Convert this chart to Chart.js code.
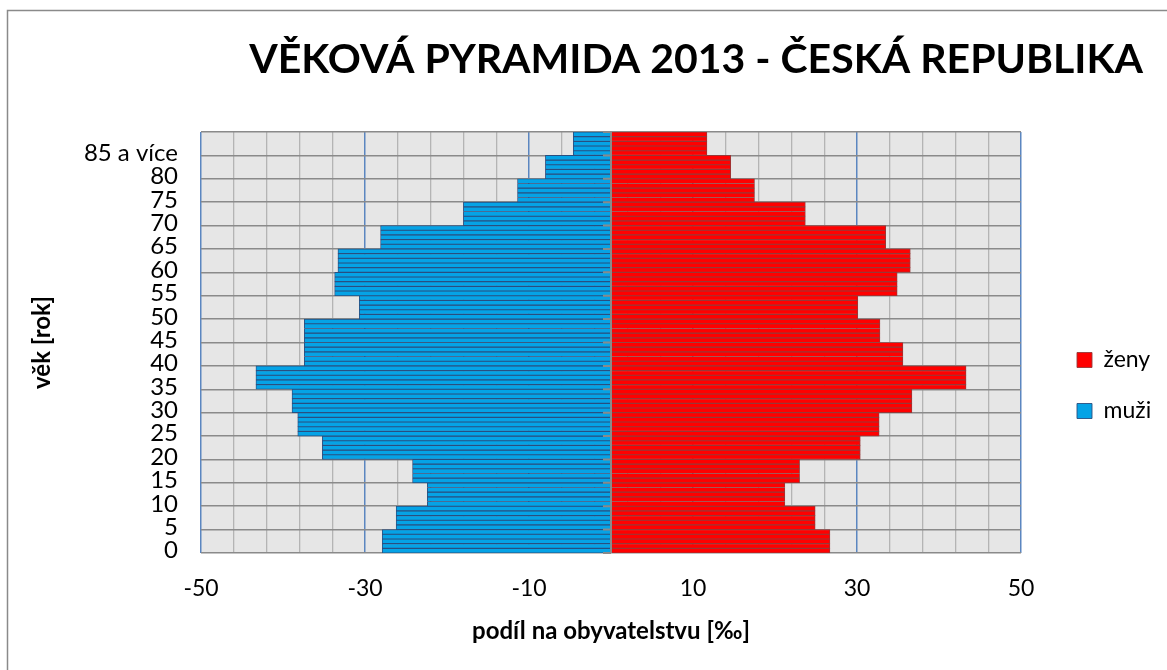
<!DOCTYPE html>
<html>
<head>
<meta charset="utf-8">
<script src="https://cdn.jsdelivr.net/npm/chart.js@4.4.1/dist/chart.umd.min.js"></script>
<style>
    html, body { margin: 0; padding: 0; background: #fff; }
    #wrap { position: relative; width: 1167px; height: 670px; }
</style>
</head>
<body>
<div id="wrap"><canvas id="pyramid"></canvas></div>
<script>
// ── Data (‰ of total population, 5-year groups, youngest first) ─────
const groupLabels = ['0', '5', '10', '15', '20', '25', '30', '35', '40', '45',
                     '50', '55', '60', '65', '70', '75', '80', '85 a více'];
const muzi = [-27.9, -26.2, -22.4, -24.2, -35.2, -38.2, -38.9, -43.3, -37.4,
              -37.4, -30.7, -33.7, -33.3, -28.1, -18.0, -11.4, -8.0, -4.6];
const zeny = [26.7, 24.9, 21.2, 23.0, 30.4, 32.7, 36.7, 43.3, 35.6,
              32.8, 30.1, 34.9, 36.5, 33.5, 23.7, 17.5, 14.6, 11.7];
const xTickLabels = [-50, -30, -10, 10, 30, 50];

// one bar per year of age, every year of a group carries the group value
const YEARS_PER_GROUP = 5;
const ageLabels = [];
const muziByAge = [];
const zenyByAge = [];
groupLabels.forEach((g, gi) => {
    for (let k = 0; k < YEARS_PER_GROUP; k++) {
        ageLabels.push(k === 0 ? g : '');
        muziByAge.push(muzi[gi]);
        zenyByAge.push(zeny[gi]);
    }
});

// ── Styling ──────────────────────────────────────────────────────────
const FONT = 'Lato';
const GRID_BLUE = '#5b86c0';
const GRID_GRAY = '#b4b4b4';
const GRID_DARK = '#8a8a8a';
const PLOT_BG = '#e6e6e6';

Chart.defaults.color = '#000';
Chart.defaults.font.family = FONT;

// background, outer frame and the category axis drawn at zero
const frame = {
    id: 'frame',
    afterLayout(chart) {
        // let the legend text run past the title's right edge without clipping
        const lg = chart.legend;
        lg.right = chart.width;
        lg.width = lg.right - lg.left;
    },
    beforeDraw(chart) {
        const { ctx, chartArea: a } = chart;
        ctx.save();
        ctx.fillStyle = '#fff';
        ctx.fillRect(0, 0, chart.width, chart.height);
        ctx.fillStyle = PLOT_BG;
        ctx.fillRect(a.left, a.top, a.right - a.left, a.bottom - a.top);
        ctx.strokeStyle = GRID_DARK;
        ctx.lineWidth = 1.5;
        ctx.beginPath();
        ctx.moveTo(7.5, chart.height);
        ctx.lineTo(7.5, 10.5);
        ctx.lineTo(chart.width, 10.5);
        ctx.stroke();
        ctx.restore();
    },
    afterDatasetsDraw(chart) {
        const { ctx, chartArea: a, scales: { x, y } } = chart;
        const x0 = x.getPixelForValue(0);
        ctx.save();
        ctx.strokeStyle = GRID_DARK;
        ctx.lineWidth = 2;
        ctx.beginPath();
        ctx.moveTo(x0, a.top);
        ctx.lineTo(x0, a.bottom);
        for (let i = 0; i <= ageLabels.length; i += YEARS_PER_GROUP) {
            const yy = y.getPixelForValue(i - 0.5);
            ctx.moveTo(x0 - 8, yy);
            ctx.lineTo(x0, yy);
        }
        ctx.stroke();
        ctx.restore();
    }
};

// ── Chart ────────────────────────────────────────────────────────────
new Chart(document.getElementById('pyramid'), {
    type: 'bar',
    data: {
        labels: ageLabels,
        datasets: [
            {
                label: 'ženy',
                data: zenyByAge,
                backgroundColor: '#ff0000',
                borderColor: '#973838',
                borderWidth: 0.9,
                categoryPercentage: 1,
                barPercentage: 1
            },
            {
                label: 'muži',
                data: muziByAge,
                backgroundColor: '#05a3e6',
                borderColor: '#2a4f80',
                borderWidth: 0.9,
                categoryPercentage: 1,
                barPercentage: 1
            }
        ]
    },
    options: {
        indexAxis: 'y',
        responsive: true,
        maintainAspectRatio: false,
        animation: false,
        layout: { padding: { left: 0, right: 24, top: 0, bottom: 0 } },
        plugins: {
            title: {
                display: true,
                text: 'VĚKOVÁ PYRAMIDA 2013 - ČESKÁ REPUBLIKA',
                align: 'end',
                color: '#000',
                font: { family: FONT, size: 41, weight: 'bold', lineHeight: 1.2 },
                padding: { top: 35, bottom: 47.8 }
            },
            legend: {
                position: 'right',
                align: 'center',
                maxWidth: 94,
                title: { display: true, text: '', font: { size: 10, lineHeight: 1 }, padding: { top: 0, bottom: 91 } },
                labels: {
                    boxWidth: 15,
                    boxHeight: 15,
                    padding: 28,
                    font: { family: FONT, size: 23 }
                }
            },
            tooltip: { enabled: false }
        },
        scales: {
            x: {
                type: 'linear',
                min: -50,
                max: 50,
                stacked: true,
                afterFit: s => { s.height = 117; },
                ticks: {
                    stepSize: 2,
                    autoSkip: false,
                    maxRotation: 0,
                    padding: 22,
                    font: { family: FONT, size: 23 },
                    callback: v => xTickLabels.includes(v) ? String(v) : ''
                },
                grid: {
                    drawTicks: false,
                    color: c => {
                        const v = c.tick ? c.tick.value : 0;
                        if (xTickLabels.includes(v)) return GRID_BLUE;
                        if ((v + 50) % 4 === 0) return GRID_GRAY;
                        return 'rgba(0,0,0,0)';
                    },
                    lineWidth: c => (c.tick && xTickLabels.includes(c.tick.value)) ? 1.5 : 1.3
                },
                border: { display: false },
                title: {
                    display: true,
                    text: 'podíl na obyvatelstvu [‰]',
                    font: { family: FONT, size: 24, weight: 'bold', lineHeight: 1.2 },
                    padding: { top: 0, bottom: 24.6 }
                }
            },
            y: {
                type: 'category',
                reverse: true,
                stacked: true,
                afterFit: s => { s.width = 201; },
                ticks: {
                    autoSkip: false,
                    padding: 23,
                    font: { family: FONT, size: 24 },
                    callback: (v, i) => ageLabels[i]
                },
                grid: {
                    drawTicks: false,
                    color: c => {
                        const i = c.type === 'tick' ? c.index : ageLabels.length;
                        return i % YEARS_PER_GROUP === 0 ? GRID_DARK : 'rgba(0,0,0,0)';
                    },
                    lineWidth: 1.5
                },
                border: { display: false },
                title: {
                    display: true,
                    text: 'věk [rok]',
                    font: { family: FONT, size: 24, weight: 'bold', lineHeight: 1.2 },
                    padding: { top: 27.6, bottom: 0 }
                }
            },
            // empty spacer between the plot and the legend
            gap: {
                axis: 'y',
                type: 'linear',
                position: 'right',
                afterFit: s => { s.width = 28; },
                grid: { display: false },
                ticks: { display: false },
                border: { display: false }
            }
        }
    },
    plugins: [frame]
});
</script>
</body>
</html>
